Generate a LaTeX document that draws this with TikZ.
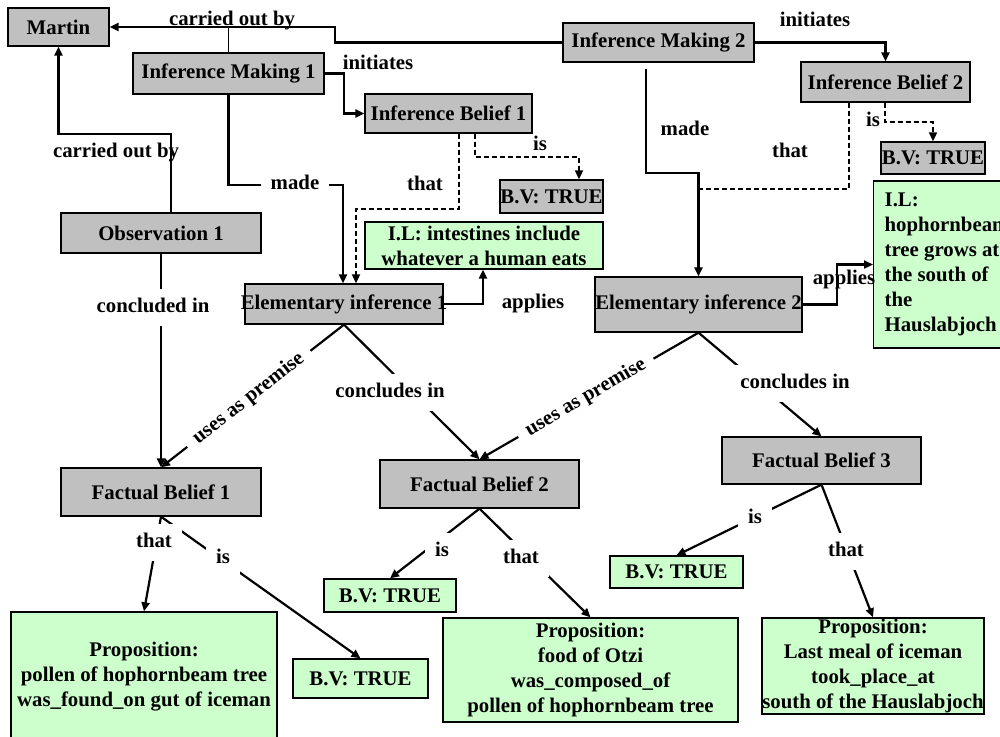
\documentclass[tikz,border=0pt]{standalone}
\usepackage{fontspec}
\setmainfont{Liberation Serif}
\usetikzlibrary{arrows.meta}
\definecolor{boxgray}{HTML}{C0C0C0}
\definecolor{boxgreen}{HTML}{CCFFCC}
\begin{document}
\begin{tikzpicture}[x=1pt,y=-1pt,
  font=\fontsize{20.8}{25}\selectfont\bfseries,
  box/.style 2 args={draw=black, line width=1.3pt, inner sep=0pt,
    minimum width=#1, minimum height=#2, align=center},
  concept/.style 2 args={box={#1}{#2}, fill=boxgray},
  value/.style 2 args={box={#1}{#2}, fill=boxgreen},
  lab/.style={fill=white, inner xsep=10pt, inner ysep=9pt, text height=14pt, text depth=5pt},
  labn/.style={inner sep=0pt, text height=14pt, text depth=5pt},
  conn/.style={line width=2.2pt, -{Triangle[length=9pt,width=8pt]}},
  dconn/.style={conn, line width=1.8pt, dash pattern=on 5pt off 3pt},
  dplain/.style={line width=1.8pt, dash pattern=on 5pt off 3pt}]

\useasboundingbox (0,0) rectangle (1000,736);

% concepts
\node[concept={101pt}{38pt}] (martin) at (58.5,27) {Martin};
\node[concept={191pt}{41pt}] (im1) at (228.5,73.5) {Inference Making 1};
\node[concept={167pt}{39pt}] (ib1) at (448.5,113.5) {Inference Belief 1};
\node[concept={191pt}{39pt}] (im2) at (658.5,42.5) {Inference Making 2};
\node[concept={169pt}{40pt}] (ib2) at (885.5,82) {Inference Belief 2};
\node[concept={104pt}{32pt}] (bvg2) at (933,158) {\makebox[0pt]{B.V: TRUE}};
\node[concept={103pt}{33pt}] (bvg1) at (551.5,196.5) {\makebox[0pt]{B.V: TRUE}};
\node[concept={200pt}{40pt}] (obs) at (161,233) {Observation 1};
\node[concept={198pt}{40pt}] (ei1) at (344,304) {\makebox[0pt]{Elementary inference 1}};
\node[concept={207pt}{55pt}] (ei2) at (698.5,304.5) {\makebox[0pt]{Elementary inference 2}};
\node[concept={200pt}{48pt}] (fb1) at (161,492) {Factual Belief 1};
\node[concept={199pt}{48pt}] (fb2) at (479.5,484) {Factual Belief 2};
\node[concept={199pt}{47pt}] (fb3) at (821.5,460.5) {Factual Belief 3};

% values and propositions
\node[value={238pt}{47pt}] (il1) at (484,245.5) {I.L: intestines include\\whatever a human eats};
\node[draw=black, line width=1.3pt, fill=boxgreen, inner xsep=11pt, inner ysep=0pt,
  minimum width=140pt, minimum height=167pt, align=left, anchor=west] (il2) at (873,264.5)
  {I.L:\\hophornbeam\\tree grows at\\the south of\\the\\Hauslabjoch};
\node[value={266pt}{130pt}] (prop1) at (144,677) {Proposition:\\pollen of hophornbeam tree\\was\_found\_on gut of iceman};
\node[value={135pt}{39pt}] (bv1) at (360.5,678.5) {B.V: TRUE};
\node[value={132pt}{33pt}] (bv2) at (390,595.5) {B.V: TRUE};
\node[value={295pt}{104pt}] (prop2) at (590.5,670) {Proposition:\\food of Otzi\\was\_composed\_of\\pollen of hophornbeam tree};
\node[value={133pt}{32pt}] (bv3) at (676.5,572) {B.V: TRUE};
\node[value={222pt}{96pt}] (prop3) at (873,666) {Proposition:\\Last meal of iceman\\took\_place\_at\\\makebox[0pt]{south of the Hauslabjoch}};

% bends of the elbow connectors
\coordinate (k1) at (335,42.5);
\coordinate (k2) at (171,134);
\coordinate (k3) at (344,73.5);
\coordinate (k4) at (343,185);
\coordinate (k5) at (459,209);
\coordinate (k6) at (356,209);
\coordinate (k7) at (475,157);
\coordinate (k8) at (579,157);
\coordinate (k9) at (885,122);
\coordinate (k10) at (646,173);
\coordinate (k11) at (849,189);
\coordinate (k12) at (483,304);
\coordinate (k13) at (837,304.5);

% carried out by
\draw[conn] (im2.west) -- (k1) |- (martin.east);
\draw[line width=1pt] (im1.north) -- (im1.north |- martin.east);
\draw[conn] (k2 |- obs.north) -- (k2) -| (martin.south);
% initiates
\draw[conn] (im1.east) -- (k3) |- (ib1.west);
\draw[conn] (im2.east) -| (ib2.north);
% made / that
\draw[conn] (im1.south) |- (k4) -- (k4 |- ei1.north);
\draw[dconn] (k5 |- ib1.south) -- (k5) -- (k6) -- (k6 |- ei1.north);
\draw[dplain] (k11 |- ib2.south) -- (k11) -- (k11 -| ei2.north);
\draw[conn, shorten <=6pt] (k10 |- im2.south) -- (k10) -| (ei2.north);
% is (inference beliefs)
\draw[dconn] (k7 |- ib1.south) -- (k7) -- (k8) -- (k8 |- bvg1.north);
\draw[dconn] (k9 |- ib2.south) -- (k9) -| (bvg2.north);
% applies
\draw[conn] (ei1.east) -- (k12) -- (k12 |- il1.south);
\draw[conn] (ei2.east) -- (k13) |- (il2.west);
% conclusions and premises
\draw[conn] (obs.south) -- (fb1.north);
\draw[conn] (ei1.south) -- (fb1.north);
\draw[conn] (ei1.south) -- (fb2.north);
\draw[conn] (ei2.south) -- (fb2.north);
\draw[conn] (ei2.south) -- (fb3.north);
% factual beliefs
\draw[conn] (fb1.south) -- (bv1.north);
\draw[conn] (fb1.south) -- (prop1.north);
\draw[conn] (fb2.south) -- (bv2.north);
\draw[conn] (fb2.south) -- (prop2.north);
\draw[conn] (fb3.south) -- (bv3.north);
\draw[conn] (fb3.south) -- (prop3.north);

% linking phrases
\node[labn] (l1) at (232,21) {carried out by};
\node[labn] (l2) at (116,152.5) {carried out by};
\node[labn] (l3) at (378,64.5) {initiates};
\node[labn] (l4) at (815,21.5) {initiates};
\node[lab] (l5) at (295,184.5) {made};
\node[labn] (l6) at (425,185.5) {that};
\node[labn] (l7) at (540,145.5) {is};
\node[labn] (l8) at (685,130.5) {made};
\node[labn] (l9) at (790,152.5) {that};
\node[labn] (l10) at (873,121.5) {is};
\node[lab] (l11) at (153,307.5) {concluded in};
\node[labn] (l12) at (533,303.5) {applies};
\node[labn] (l13) at (844,279.5) {applies};
\node[lab, rotate=38.2] (l14) at (249,399) {uses as premise};
\node[lab, rotate=30.3] (l15) at (586,398) {uses as premise};
\node[lab] (l16) at (390,392.5) {concludes in};
\node[lab] (l17) at (795,383.5) {concludes in};
\node[lab] (l18) at (223,558.5) {is};
\node[lab] (l19) at (154,542.5) {that};
\node[lab] (l20) at (442,551.5) {is};
\node[lab] (l21) at (521,558.5) {that};
\node[lab] (l22) at (755,518.5) {is};
\node[lab] (l23) at (846,551.5) {that};
\end{tikzpicture}
\end{document}
